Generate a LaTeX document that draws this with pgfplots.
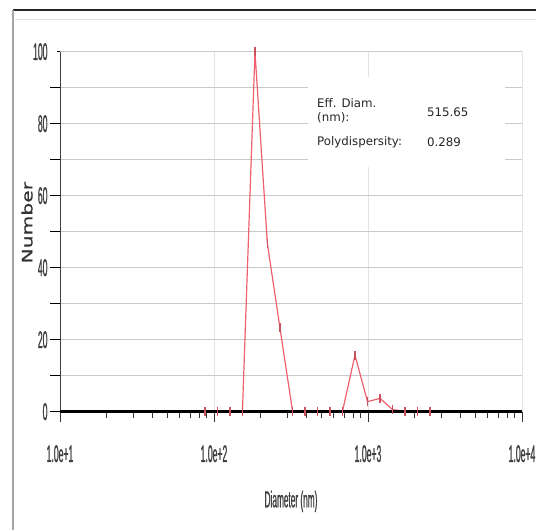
\documentclass[border=0pt]{standalone}
\usepackage{fontspec}
\setmainfont{DejaVu Sans}
\newfontfamily\narrowfont[FakeStretch=0.36, FakeBold=0.8]{Liberation Sans}
\newfontfamily\ylabfont[FakeStretch=1.4, FakeBold=0.6]{DejaVu Sans}
\usepackage{pgfplots}
\usepackage{pgfplotstable}
\pgfplotsset{compat=1.18}

\pgfplotstableread{
d n
87.5 0
105.5 0
127 0
153 0
184.5 100
222 46.8
268 23.3
324 0
390 0
470 0
566 0
682 0
823 15.7
993 2.8
1197 3.7
1443 0.6
1739 0.1
2096 0
2527 0
}\dist

\definecolor{curve}{RGB}{238,96,110}

\begin{document}
\begin{tikzpicture}[x=1pt,y=1pt]
\path[use as bounding box] (0,0) rectangle (536,530);
\draw[line width=2.5pt, black!85] (13,520) -- (536,520);
\draw[line width=1pt, gray!25] (15,510) -- (536,510);
\draw[line width=1.5pt, gray!70] (13,520) -- (13,0);
\begin{axis}[
  at={(60pt,118.3pt)}, anchor=south west,
  scale only axis, width=462pt, height=360pt,
  xmode=log, xmin=10, xmax=10000, ymin=0, ymax=100,
  clip=false,
  axis x line=bottom, axis y line=left,
  axis line style={-},
  x axis line style={line width=2.4pt, black},
  y axis line style={line width=1pt, black!75},
  xtick={10,100,1000,10000},
  xticklabels={1.0e+1,1.0e+2,1.0e+3,1.0e+4},
  minor xtick={20,30,40,50,60,70,80,90,200,300,400,500,600,700,800,900,2000,3000,4000,5000,6000,7000,8000,9000},
  ytick={0,10,...,100}, yticklabels={0,,20,,40,,60,,80,,100},
  ymajorgrids, xmajorgrids,
  major y grid style={gray!42, line width=1.6pt},
  major x grid style={gray!22, line width=1pt},
  tick align=outside,
  major tick length=10pt, minor tick length=6pt,
  xtick style={black!80, line width=1pt},
  ytick style={black, line width=1.5pt, shorten <=7pt},
  tick label style={font=\narrowfont\fontsize{24}{24}\selectfont, black!75},
  xticklabel style={yshift=-20pt},
  yticklabel style={xshift=1pt},
  xlabel={Diameter (nm)},
  xlabel style={at={(axis description cs:0.5,-0.249)}, anchor=center,
    font=\narrowfont\fontsize{23}{23}\selectfont, black!75},
  ylabel={Number},
  ylabel style={at={(axis description cs:-0.0714,0.525)}, anchor=center,
    font=\ylabfont\fontsize{14.5}{14.5}\selectfont, black!80},
]
\addplot[curve, line width=1.2pt, no marks] table[x=d, y=n] {\dist};
\draw[line width=2.4pt, black] (axis cs:10,0) -- (axis cs:10000,0);
\addplot[curve!85!black, only marks, mark=|, mark size=4.5pt, mark options={line width=1.4pt}] table[x=d, y=n] {\dist};
\end{axis}
\fill[white] (308,363) rectangle (505,453);
\begin{scope}[every node/.style={font=\fontsize{11.8}{13}\selectfont, text=black!85, inner sep=0pt, anchor=west}]
\node at (317,427) {Eff. Diam.};
\node at (317,412) {(nm):};
\node at (427,418) {515.65};
\node at (317,388) {Polydispersity:};
\node at (427,388) {0.289};
\end{scope}
\end{tikzpicture}
\end{document}
